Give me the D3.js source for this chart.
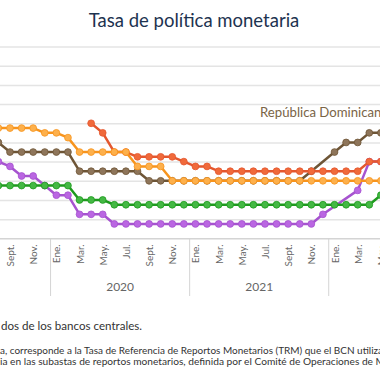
<!DOCTYPE html>
<html><head><meta charset="utf-8">
<script src="https://cdn.jsdelivr.net/npm/d3@7"></script>
<style>
html,body{margin:0;padding:0;background:#fff;}
svg{display:block;font-family:Lato,"Open Sans",sans-serif;}
</style></head>
<body><svg id="c" width="380" height="380"></svg>
<script>
// Months from Aug 2019 (index 0) to May 2022 (index 33)
const monthNames = ["Ene.","Feb.","Mar.","Abr.","May.","Jun.","Jul.","Ago.","Sept.","Oct.","Nov.","Dic."];
const startMonth = 7; // August
const years = ["2020","2021"];
const yearStartIdx = [5, 17];

const costaRica = [4.0,3.75,3.25,3.25,2.75,2.25,2.25,1.25,1.25,1.25,
  0.75,0.75,0.75,0.75,0.75,0.75,0.75,0.75,0.75,0.75,0.75,0.75,0.75,0.75,0.75,0.75,0.75,0.75,
  1.25,null,null,2.5,4.0,4.0];
const guatemala = [2.75,2.75,2.75,2.75,2.75,2.75,2.75,2.0,2.0,2.0,
  1.75,1.75,1.75,1.75,1.75,1.75,1.75,1.75,1.75,1.75,1.75,1.75,1.75,1.75,1.75,1.75,1.75,1.75,1.75,1.75,1.75,1.75,1.75,
  2.25];
const honduras = [5.75,5.75,5.75,5.75,5.5,5.5,5.25,4.5,4.5,4.5,4.5,4.5,3.75,3.75,3.75,
  3.0,3.0,3.0,3.0,3.0,3.0,3.0,3.0,3.0,3.0,3.0,3.0,3.0,3.0,3.0,3.0,3.0,3.0,3.0];
const nicaragua = [null,null,null,null,null,null,null,null,6.0,5.5,4.5,4.5,4.25,4.25,4.25,4.25,4.0,3.75,3.75,
  3.5,3.5,3.5,3.5,3.5,3.5,3.5,3.5,3.5,3.5,3.5,3.5,3.5,4.0,4.0];
const repDominicana = [5.0,4.5,4.5,4.5,4.5,4.5,4.5,3.5,3.5,3.5,3.5,3.5,3.5,
  3.0,3.0,3.0,3.0,3.0,3.0,3.0,3.0,3.0,3.0,3.0,3.0,3.0,3.0,3.5,null,4.5,5.0,5.0,5.5,5.5];

const seriesNames = ["República Dominicana","Costa Rica","Guatemala","Nicaragua","Honduras"];
const seriesValues = [repDominicana, costaRica, guatemala, nicaragua, honduras];
const lineColors = ["#6E5536","#A653CF","#1E9A1E","#E4572E","#F7941D"];
const dotColors  = ["#8E755A","#BA66E2","#44B844","#F06A3B","#FDB04C"];

const title = "Tasa de política monetaria";
const note1 = "dos de los bancos centrales.";
const note2 = "a, corresponde a la Tasa de Referencia de Reportos Monetarios (TRM) que el BCN utiliza";
const note3 = "ia en las subastas de reportos monetarios, definida por el Comité de Operaciones de M";

const W = 380;
const svg = d3.select("#c");
const n = costaRica.length;
const x = d3.scaleLinear().domain([0, n-1]).range([-1.59, 380.88]);
const y = d3.scaleLinear().domain([0, 10]).range([238.3, 46.6]);

// title
svg.append("text").attr("x", 194).attr("y", 27).attr("text-anchor","middle")
  .attr("font-size", 18.5).attr("fill", "#1D3350").text(title);

// gridlines
const grid = svg.append("g").call(d3.axisRight(y).tickValues(d3.range(1, 11)).tickSize(W).tickFormat(""));
grid.select(".domain").remove();
grid.selectAll("line").attr("stroke", "#e4e4e4").attr("stroke-width", 1.5);

// x axis
const xa = svg.append("g").attr("transform", `translate(0,${y(0)})`)
  .call(d3.axisBottom(x).tickValues(d3.range(1, n, 2)).tickSize(0)
    .tickFormat(i => monthNames[(startMonth + i) % 12]));
xa.select(".domain").attr("stroke", "#d4d4d4").attr("stroke-width", 1.5);
xa.selectAll("text").attr("font-size", 10).attr("fill", "#666")
  .attr("text-anchor", "end").attr("transform", "rotate(-90)")
  .attr("x", -6).attr("y", 0).attr("dy", "0.35em");
xa.selectAll(".tick text").attr("font-family", "Lato");

// year dividers
[4.5, 16.5, 28.5].forEach(v => {
  svg.append("line").attr("x1", x(v)).attr("x2", x(v)).attr("y1", y(0)).attr("y2", 296)
    .attr("stroke", "#d4d4d4").attr("stroke-width", 1);
});
years.forEach((yr, k) => {
  svg.append("text").attr("x", (x(yearStartIdx[k]) + x(yearStartIdx[k] + 11)) / 2).attr("y", 291)
    .attr("text-anchor", "middle").attr("font-size", 12).attr("fill", "#666").text(yr);
});

// series
const line = d3.line().x(d => x(d.i)).y(d => y(d.v));
seriesValues.forEach((vals, s) => {
  const pts = vals.map((v, i) => ({i, v})).filter(d => d.v !== null);
  const g = svg.append("g");
  g.append("path").attr("d", line(pts)).attr("fill", "none")
    .attr("stroke", lineColors[s]).attr("stroke-width", 2.5).attr("stroke-linejoin", "round");
  g.selectAll("circle").data(pts).join("circle")
    .attr("cx", d => x(d.i)).attr("cy", d => y(d.v)).attr("r", 3.4)
    .attr("fill", dotColors[s]).attr("stroke", lineColors[s]).attr("stroke-width", 0.8);
});

// series label
svg.append("text").attr("x", 260).attr("y", 117).attr("font-size", 13)
  .attr("textLength", 128).attr("lengthAdjust", "spacingAndGlyphs")
  .attr("fill", "#7A6446").text(seriesNames[0]);

// notes
svg.append("text").attr("x", 1).attr("y", 329.5).attr("font-size", 11).attr("fill", "#333")
  .attr("textLength", 141).attr("lengthAdjust", "spacingAndGlyphs").text(note1);
svg.append("text").attr("x", 0).attr("y", 353.5).attr("font-size", 9.5).attr("fill", "#333")
  .attr("textLength", 383).attr("lengthAdjust", "spacingAndGlyphs").text(note2);
svg.append("text").attr("x", 0).attr("y", 364.5).attr("font-size", 9.5).attr("fill", "#333")
  .attr("textLength", 385).attr("lengthAdjust", "spacingAndGlyphs").text(note3);
</script></body></html>
